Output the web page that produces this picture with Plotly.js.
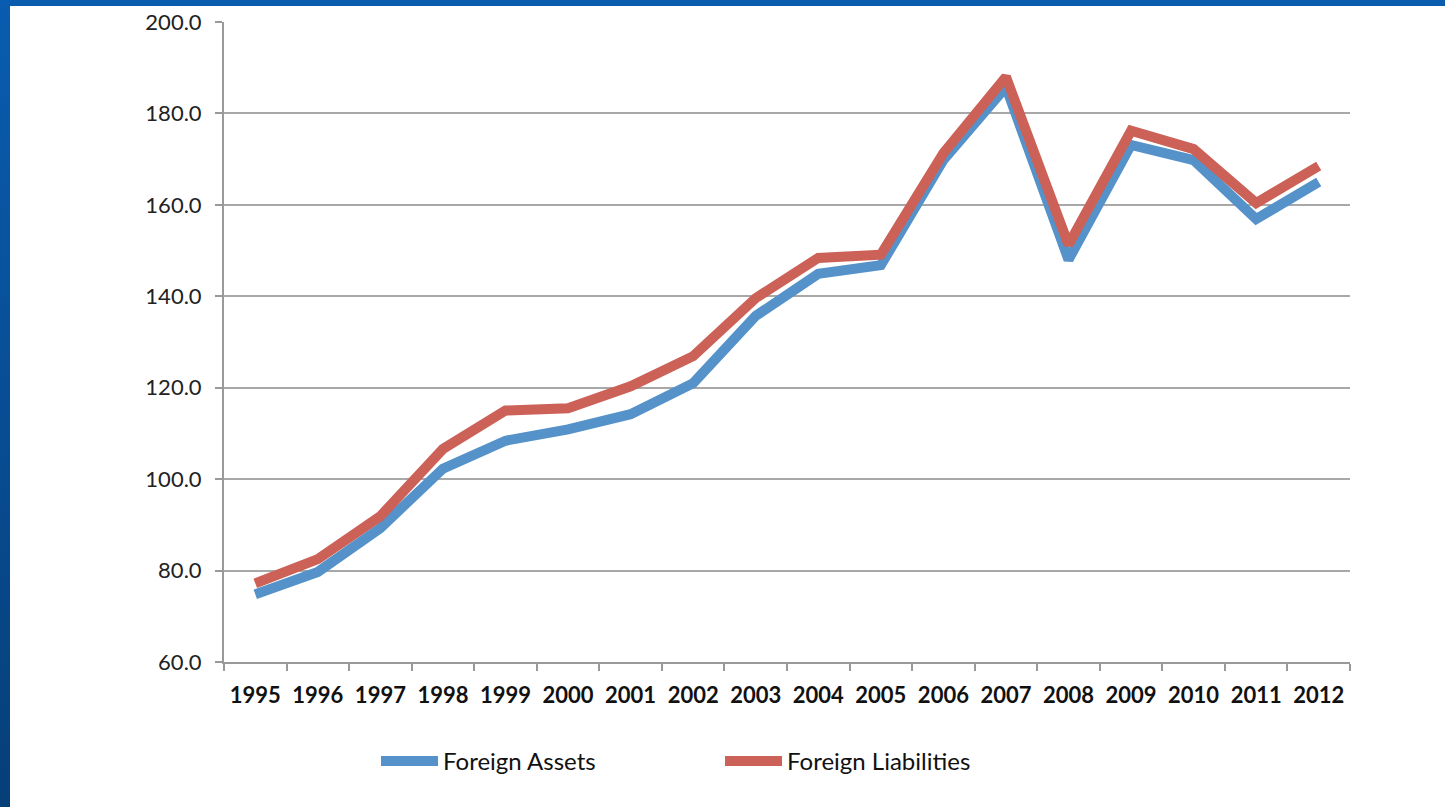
<!DOCTYPE html>
<html>
<head>
<meta charset="utf-8">
<script src="https://cdn.plot.ly/plotly-3.0.1.min.js"></script>
<style>
html,body{margin:0;padding:0;background:#fff;}
#wrap{position:relative;width:1445px;height:807px;overflow:hidden;}
#chart{position:absolute;left:0;top:0;width:1445px;height:807px;}
#bt{position:absolute;left:0;top:0;width:1445px;height:6px;background:#0a5cae;}
#bl{position:absolute;left:0;top:0;width:10px;height:807px;background:linear-gradient(#0a5cb0,#063f78);}
</style>
</head>
<body>
<div id="wrap">
<div id="chart"></div>
<div id="bt"></div>
<div id="bl"></div>
</div>
<script>
const years = ["1995","1996","1997","1998","1999","2000","2001","2002","2003","2004","2005","2006","2007","2008","2009","2010","2011","2012"];
const foreignAssets = [74.8,79.7,89.3,102.3,108.4,110.9,114.2,121.0,135.7,144.9,146.8,169.8,185.8,148.0,173.1,169.8,156.9,165.0];
const foreignLiabilities = [77.2,82.5,91.9,106.6,115.0,115.5,120.3,126.9,139.6,148.4,149.1,171.3,188.0,151.3,176.2,172.2,160.4,168.5];
const yTicks = [60,80,100,120,140,160,180,200];
const yTickText = ["60.0","80.0","100.0","120.0","140.0","160.0","180.0","200.0"];

const traces = [
  {x: years, y: foreignAssets, name: "Foreign Assets", type: "scatter", mode: "lines",
   line: {color: "#5592c9", width: 10}},
  {x: years, y: foreignLiabilities, name: "Foreign Liabilities", type: "scatter", mode: "lines",
   line: {color: "#cc6158", width: 10}}
];

const layout = {
  width: 1445, height: 807,
  margin: {l: 224, r: 95, t: 22, b: 145},
  paper_bgcolor: "#ffffff", plot_bgcolor: "#ffffff",
  font: {family: "Lato, 'Open Sans', sans-serif", color: "#111"},
  showlegend: true,
  legend: {orientation: "h", x: 0.135, y: -0.12, xanchor: "left", yanchor: "top",
           font: {size: 24, color: "#111"}, itemwidth: 57, entrywidth: 272, entrywidthmode: "pixels",
           bgcolor: "rgba(0,0,0,0)"},
  xaxis: {type: "category", tickson: "boundaries", ticks: "outside", ticklen: 7, tickcolor: "#999",
          tickwidth: 2, showline: true, linecolor: "#999", linewidth: 2, showgrid: false,
          tickfont: {size: 22, color: "#111", weight: "bold"}, ticklabelstandoff: 13,
          range: [-0.5, 17.5], fixedrange: true},
  yaxis: {range: [60, 200], tickvals: yTicks, ticktext: yTickText, ticks: "outside", ticklen: 7,
          tickcolor: "#999", tickwidth: 2, showline: true, linecolor: "#999", linewidth: 2,
          showgrid: true, gridcolor: "#a8a8a8", gridwidth: 2, zeroline: false,
          tickfont: {size: 22, color: "#222"}, ticklabelstandoff: 9}
};

Plotly.newPlot("chart", traces, layout, {displayModeBar: false, staticPlot: true});
</script>
</body>
</html>
